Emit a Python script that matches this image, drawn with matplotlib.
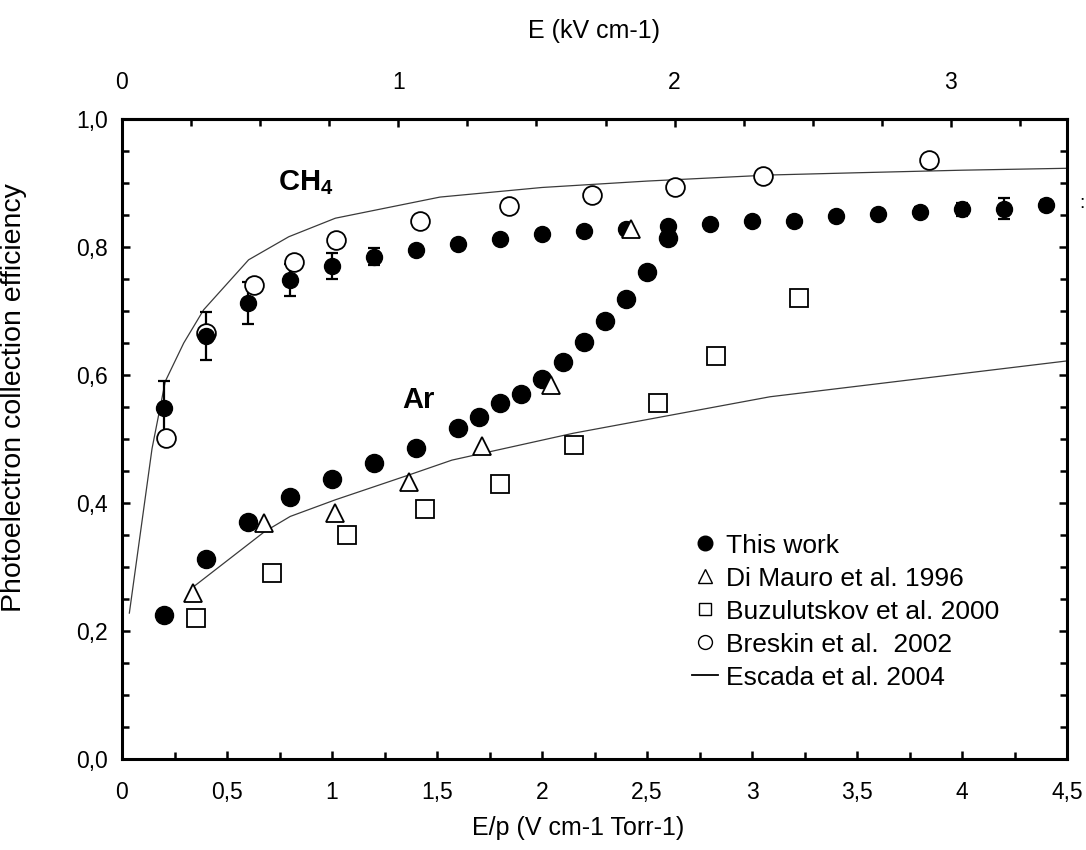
import matplotlib
matplotlib.use('Agg')
import matplotlib.pyplot as plt
from matplotlib.lines import Line2D
from matplotlib.ticker import MultipleLocator, FuncFormatter, FixedLocator

plt.rcParams['font.family'] = ['Liberation Sans', 'DejaVu Sans']
plt.rcParams['mathtext.fontset'] = 'custom'
plt.rcParams['mathtext.rm'] = 'Liberation Sans'
plt.rcParams['mathtext.bf'] = 'Liberation Sans:bold'

# ---------------- data ----------------
# This work, CH4 (with error bars)
ch4_x = [0.2, 0.4, 0.6, 0.8, 1.0, 1.2, 1.4, 1.6, 1.8, 2.0, 2.2, 2.4, 2.6, 2.8, 3.0,
         3.2, 3.4, 3.6, 3.8, 4.0, 4.2, 4.4]
ch4_y = [0.548, 0.661, 0.712, 0.748, 0.770, 0.785, 0.796, 0.805, 0.812, 0.821, 0.825,
         0.828, 0.833, 0.836, 0.841, 0.841, 0.849, 0.851, 0.855, 0.859, 0.860, 0.866]
ch4_err = [0.042, 0.037, 0.033, 0.025, 0.020, 0.013, 0.005, 0.006, 0.005, 0.005, 0.005,
           0.005, 0.005, 0.005, 0.005, 0.005, 0.005, 0.006, 0.008, 0.010, 0.016, 0.008]

# This work, Ar
ar_x = [0.2, 0.4, 0.6, 0.8, 1.0, 1.2, 1.4, 1.6, 1.7, 1.8, 1.9, 2.0, 2.1, 2.2, 2.3,
        2.4, 2.5, 2.6]
ar_y = [0.2245, 0.313, 0.371, 0.410, 0.438, 0.462, 0.486, 0.517, 0.535, 0.557, 0.571,
        0.594, 0.621, 0.652, 0.684, 0.718, 0.761, 0.814]

# Di Mauro et al. 1996
dimauro_x = [0.337, 0.678, 1.016, 1.368, 1.713, 2.043, 2.424]
dimauro_y = [0.259, 0.368, 0.384, 0.433, 0.489, 0.584, 0.828]

# Buzulutskov et al. 2000
buzul_x = [0.352, 0.714, 1.071, 1.441, 1.80, 2.152, 2.551, 2.829, 3.225]
buzul_y = [0.220, 0.290, 0.350, 0.390, 0.430, 0.491, 0.556, 0.630, 0.721]

# Breskin et al. 2002
breskin_x = [0.21, 0.398, 0.627, 0.818, 1.021, 1.42, 1.845, 2.24, 2.633, 3.05, 3.843]
breskin_y = [0.501, 0.666, 0.741, 0.777, 0.811, 0.841, 0.864, 0.881, 0.894, 0.911, 0.936]

# Escada et al. 2004 (CH4 and Ar curves)
esc_ch4_x = [0.035, 0.143, 0.206, 0.294, 0.389, 0.603, 0.794, 1.016, 1.514, 2.0, 2.5,
             3.086, 3.5, 4.0, 4.5]
esc_ch4_y = [0.228, 0.485, 0.590, 0.650, 0.702, 0.780, 0.816, 0.845, 0.878, 0.893, 0.903,
             0.9125, 0.916, 0.920, 0.923]
esc_ar_x = [0.34, 0.678, 0.801, 1.016, 1.368, 1.571, 2.149, 3.086, 4.5]
esc_ar_y = [0.269, 0.355, 0.379, 0.405, 0.444, 0.467, 0.509, 0.566, 0.622]

legend_labels = ['This work', 'Di Mauro et al. 1996', 'Buzulutskov et al. 2000',
                 'Breskin et al.  2002', 'Escada et al. 2004']

top_major = [0, 1, 2, 3]
top_minor = [0.25, 0.5, 0.75, 1.25, 1.5, 1.75, 2.25, 2.5, 2.75, 3.25]

E_PER_EP = 0.76  # kV cm-1 per (V cm-1 Torr-1) at 760 Torr

# ---------------- figure ----------------
fig = plt.figure(figsize=(10.86, 8.5), dpi=100)
ax = fig.add_axes([122 / 1086, 91 / 850, 945 / 1086, 640 / 850])

line_c = '#3a3a3a'
ax.plot(esc_ch4_x, esc_ch4_y, color=line_c, lw=0.9, zorder=1.5)
ax.plot(esc_ar_x, esc_ar_y, color=line_c, lw=0.9, zorder=1.5)

ax.errorbar(ch4_x, ch4_y, yerr=ch4_err, fmt='none', ecolor='k', elinewidth=1.6,
            capsize=4.5, capthick=1.6, zorder=2)

ax.plot(breskin_x, breskin_y, ls='none', marker='o', ms=13.5, mfc='white', mec='k',
        mew=1.3, zorder=3)
ax.plot(ch4_x, ch4_y, ls='none', marker='o', ms=11.5, color='k', zorder=4)
ax.plot(ar_x, ar_y, ls='none', marker='o', ms=13, color='k', zorder=4)
ax.plot(buzul_x, buzul_y, ls='none', marker='s', ms=12.5, mfc='white', mec='k',
        mew=1.3, zorder=5)
ax.plot(dimauro_x, dimauro_y, ls='none', marker='^', ms=13, mfc='white', mec='k',
        mew=1.3, zorder=5)

ax.set_xlim(0, 4.5)
ax.set_ylim(0, 1.0)

ax.xaxis.set_major_locator(MultipleLocator(0.5))
ax.xaxis.set_minor_locator(MultipleLocator(0.25))
ax.yaxis.set_major_locator(MultipleLocator(0.2))
ax.yaxis.set_minor_locator(MultipleLocator(0.05))
ax.xaxis.set_major_formatter(FuncFormatter(lambda v, p: ('%g' % round(v, 3)).replace('.', ',')))
ax.yaxis.set_major_formatter(FuncFormatter(lambda v, p: ('%.1f' % v).replace('.', ',')))

ax.tick_params(which='both', direction='in', top=False, right=True, width=1.8,
               labelsize=16.5)
ax.tick_params(which='major', length=6)
ax.tick_params(which='minor', length=5)
ax.tick_params(axis='x', which='major', pad=16)
ax.tick_params(axis='y', which='major', pad=10)

for s in ax.spines.values():
    s.set_linewidth(2.2)

secax = ax.secondary_xaxis('top', functions=(lambda x: x * E_PER_EP, lambda x: x / E_PER_EP))
secax.xaxis.set_major_locator(FixedLocator(top_major))
secax.xaxis.set_minor_locator(FixedLocator(top_minor))
secax.xaxis.set_major_formatter(FuncFormatter(lambda v, p: '%d' % round(v)))
secax.tick_params(which='both', direction='in', width=1.8, labelsize=16.5)
secax.tick_params(which='major', length=6, pad=18)
secax.tick_params(which='minor', length=5)
secax.spines['top'].set_linewidth(2.2)
secax.set_xlabel('E (kV cm-1)', fontsize=18, labelpad=24)

ax.set_xlabel('E/p (V cm-1 Torr-1)', fontsize=18)
ax.xaxis.set_label_coords((578 - 122) / 945, -(828 - 759) / 640)
ax.xaxis.label.set_va('center')
ax.set_ylabel('Photoelectron collection efficiency', fontsize=20.5)
ax.yaxis.set_label_coords(-(122 - 14) / 945, (759 - 398) / 640)
ax.yaxis.label.set_va('center')

ax.text(0.743, 0.889, r'$\mathbf{CH_4}$', fontsize=21, ha='left', va='baseline', zorder=6)
ax.text(1.333, 0.548, 'Ar', fontsize=21, fontweight='bold', ha='left', va='baseline', zorder=6)

handles = [
    Line2D([], [], ls='none', marker='o', ms=10.5, color='k'),
    Line2D([], [], ls='none', marker='^', ms=10.5, mfc='none', mec='k', mew=1.0),
    Line2D([], [], ls='none', marker='s', ms=9, mfc='none', mec='k', mew=1.0),
    Line2D([], [], ls='none', marker='o', ms=10, mfc='none', mec='k', mew=1.0),
    Line2D([], [], color='k', lw=1.3),
]
ax.legend(handles, legend_labels, loc='upper left', bbox_to_anchor=(0.603, 0.352),
          frameon=False, fontsize=19, handlelength=1.0, handletextpad=0.3,
          labelspacing=0.34, borderpad=0, borderaxespad=0)

fig.text(1082 / 1086, 1 - 203 / 850, ':', fontsize=14, ha='center', va='center')

fig.savefig('out.png', dpi=100)
